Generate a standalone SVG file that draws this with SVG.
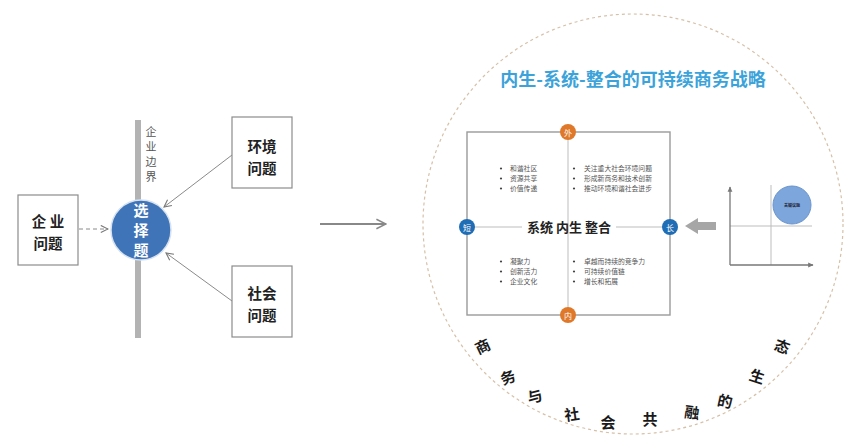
<svg xmlns="http://www.w3.org/2000/svg" width="866" height="448" viewBox="0 0 866 448">
<style>
.box{fill:#fff;stroke:#8c8c8c;stroke-width:1.2}
.cjk{font-family:"Noto Sans CJK SC","Noto Sans CJK TC",sans-serif}
.lbl{font-size:14.5px;font-weight:bold;fill:#222;text-anchor:middle}
.bul{font-size:6.8px;fill:#555}
.dot{fill:#444}
.arc{font-size:15px;font-weight:bold;fill:#1a1a1a;text-anchor:middle}
.conn{stroke:#8a8a8a;stroke-width:1;fill:none}
.ax{stroke:#777;stroke-width:1.3;fill:none}
.thin{stroke:#bdbdbd;stroke-width:1;fill:none}
</style>
<defs>
<marker id="open" viewBox="0 0 10 10" refX="9" refY="5" markerWidth="9" markerHeight="9" orient="auto" markerUnits="userSpaceOnUse">
<path d="M1,1 L9,5 L1,9" fill="none" stroke="#777" stroke-width="1.2"/>
</marker>
<marker id="openBig" viewBox="0 0 10 10" refX="9" refY="5" markerWidth="12" markerHeight="12" orient="auto" markerUnits="userSpaceOnUse">
<path d="M1,1 L9,5 L1,9" fill="none" stroke="#888" stroke-width="1.3"/>
</marker>
<marker id="tri" viewBox="0 0 10 10" refX="8" refY="5" markerWidth="6" markerHeight="6" orient="auto" markerUnits="userSpaceOnUse">
<path d="M0,1 L9,5 L0,9 Z" fill="#777"/>
</marker>
</defs>
<rect width="866" height="448" fill="#fff"/>

<!-- left part -->
<rect id="boundary" x="135" y="120" width="6" height="218" fill="#b3b3b3"/>
<g id="boundary-label" class="cjk" font-size="11" fill="#555" text-anchor="middle">
<text x="151" y="136">企</text>
<text x="151" y="151">业</text>
<text x="151" y="166">边</text>
<text x="151" y="181">界</text>
</g>

<g id="connectors">
<line class="conn" x1="79" y1="229" x2="108" y2="229" stroke-dasharray="4,3" marker-end="url(#open)"/>
<line class="conn" x1="232" y1="155" x2="164" y2="207" marker-end="url(#open)"/>
<line class="conn" x1="232" y1="301" x2="166" y2="253" marker-end="url(#open)"/>
<line x1="320" y1="224" x2="386" y2="224" stroke="#888" stroke-width="1.8" marker-end="url(#openBig)"/>
</g>

<g id="node-company">
<rect class="box" x="18" y="195" width="60" height="70"/>
<text class="cjk lbl" x="48" y="227">企 业</text>
<text class="cjk lbl" x="48" y="248.5">问题</text>
</g>
<g id="node-env">
<rect class="box" x="232" y="117" width="60" height="71"/>
<text class="cjk lbl" x="262" y="152">环境</text>
<text class="cjk lbl" x="262" y="173.5">问题</text>
</g>
<g id="node-social">
<rect class="box" x="232" y="266" width="60" height="71"/>
<text class="cjk lbl" x="262" y="299">社会</text>
<text class="cjk lbl" x="262" y="320.5">问题</text>
</g>
<g id="node-choice">
<circle cx="141" cy="230" r="30" fill="#3F74B8" stroke="#d6e2f0" stroke-width="1.5"/>
<g class="cjk" font-size="15" font-weight="bold" fill="#fff" text-anchor="middle">
<text x="141" y="216">选</text>
<text x="141" y="236">择</text>
<text x="141" y="256">题</text>
</g>
</g>

<!-- right part -->
<circle id="big-circle" cx="633" cy="224" r="210" fill="none" stroke="#d6c0a8" stroke-width="1.2" stroke-dasharray="3,3"/>
<text id="title" class="cjk" x="633" y="86" font-size="18" font-weight="bold" fill="#3BA3DA" text-anchor="middle">内生-系统-整合的可持续商务战略</text>

<g id="matrix">
<rect x="467" y="132" width="203" height="183" fill="#fff" stroke="#9a9a9a" stroke-width="1.4"/>
<line class="thin" x1="568" y1="132" x2="568" y2="315"/>
<line class="thin" x1="467" y1="227" x2="522" y2="227"/>
<line class="thin" x1="616" y1="227" x2="670" y2="227"/>
<text class="cjk" x="569" y="232" font-size="13" font-weight="bold" fill="#222" text-anchor="middle">系统 内生 整合</text>
<g class="dot">
<circle cx="501" cy="168.5" r="1.1"/><circle cx="501" cy="178.5" r="1.1"/><circle cx="501" cy="188.5" r="1.1"/>
<circle cx="574" cy="168.5" r="1.1"/><circle cx="574" cy="178.5" r="1.1"/><circle cx="574" cy="188.5" r="1.1"/>
<circle cx="501" cy="261.5" r="1.1"/><circle cx="501" cy="271.5" r="1.1"/><circle cx="501" cy="281.5" r="1.1"/>
<circle cx="574" cy="261.5" r="1.1"/><circle cx="574" cy="271.5" r="1.1"/><circle cx="574" cy="281.5" r="1.1"/>
</g>
<g class="cjk bul">
<text x="510" y="171">和谐社区</text>
<text x="510" y="181">资源共享</text>
<text x="510" y="191">价值传递</text>
<text x="584" y="171">关注重大社会环境问题</text>
<text x="584" y="181">形成新商务和技术创新</text>
<text x="584" y="191">推动环境和谐社会进步</text>
<text x="510" y="264">凝聚力</text>
<text x="510" y="274">创新活力</text>
<text x="510" y="284">企业文化</text>
<text x="584" y="264">卓越而持续的竞争力</text>
<text x="584" y="274">可持续价值链</text>
<text x="584" y="284">增长和拓展</text>
</g>
</g>
<g id="node-outer">
<circle cx="568" cy="132" r="8" fill="#E0782A"/>
<text class="cjk" x="568" y="135.5" font-size="8" fill="#fff" text-anchor="middle">外</text>
</g>
<g id="node-inner">
<circle cx="568" cy="315" r="8" fill="#E0782A"/>
<text class="cjk" x="568" y="318.5" font-size="8" fill="#fff" text-anchor="middle">内</text>
</g>
<g id="node-short">
<circle cx="467" cy="227" r="8" fill="#1F6DB5"/>
<text class="cjk" x="467" y="230.5" font-size="8" fill="#fff" text-anchor="middle">短</text>
</g>
<g id="node-long">
<circle cx="670" cy="227" r="8" fill="#1F6DB5"/>
<text class="cjk" x="670" y="230.5" font-size="8" fill="#fff" text-anchor="middle">长</text>
</g>

<path id="gray-arrow" d="M685,226 L698,218 L698,222 L716,222 L716,230 L698,230 L698,234 Z" fill="#a6a6a6"/>

<g id="chart">
<line class="thin" x1="771" y1="185" x2="771" y2="265"/>
<line class="thin" x1="730" y1="226" x2="812" y2="226"/>
<line class="ax" x1="730" y1="265" x2="730" y2="187" marker-end="url(#tri)"/>
<line class="ax" x1="730" y1="265" x2="813" y2="265" marker-end="url(#tri)"/>
<circle cx="792" cy="205" r="19" fill="#7DA6DC" stroke="#6a94cc" stroke-width="1"/>
<text class="cjk" x="792" y="207" font-size="4" font-weight="bold" fill="#223" text-anchor="middle">关键议题</text>
</g>

<g id="arc-text" class="cjk arc">
<text x="483" y="352" transform="rotate(-25 483 347)">商</text>
<text x="508" y="383" transform="rotate(-20 508 378)">务</text>
<text x="535" y="402" transform="rotate(-15 535 397)">与</text>
<text x="572" y="420" transform="rotate(-8 572 415)">社</text>
<text x="608" y="428">会</text>
<text x="650" y="425">共</text>
<text x="692" y="418" transform="rotate(8 692 413)">融</text>
<text x="725" y="407" transform="rotate(12 725 402)">的</text>
<text x="757" y="382" transform="rotate(18 757 377)">生</text>
<text x="782" y="352" transform="rotate(20 782 347)">态</text>
</g>
</svg>
